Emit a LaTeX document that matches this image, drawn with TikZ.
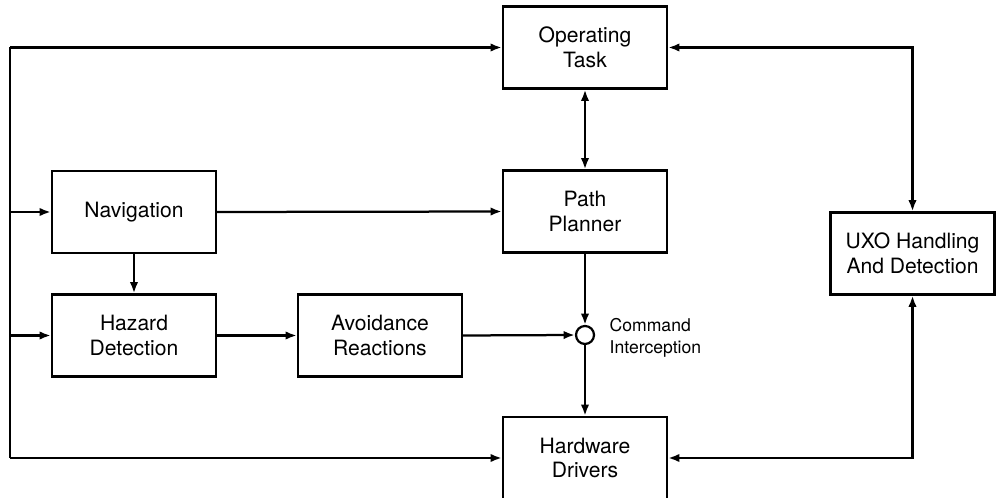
\documentclass[tikz,border=0pt]{standalone}
\usepackage{fontspec}
\setmainfont{TeX Gyre Heros}
\usetikzlibrary{positioning,arrows.meta}

\begin{document}
\begin{tikzpicture}[>={Latex[length=8pt,width=6pt]},x=0.025cm,y=-0.025cm,line width=1.6pt,
        block/.style={draw,rectangle,align=center,minimum width=4.1cm,minimum height=2.05cm,
            inner sep=2pt,font=\fontsize{15}{17.5}\selectfont},
        junct/.style={draw,circle,minimum size=0.45cm,inner sep=0pt}]

                \useasboundingbox (0,0) rectangle (996,498);

                \node[block] (task) at (585,47.5) {Operating\\Task};
                \node[block] (path) at (585,211.5) {Path\\Planner};
                \node[block] (nav) at (134,212) {Navigation};
                \node[block] (haz) at (134,335.5) {Hazard\\Detection};
                \node[block] (avoid) at (380,335.5) {Avoidance\\Reactions};
                \node[block] (hw) at (585,458) {Hardware\\Drivers};
                \node[block] (uxo) at (912.5,253.5) {UXO Handling\\And Detection};

                \node[junct] (cmd) at (585,335) {};
                \node[right=0.22cm of cmd,align=left,yshift=-0.08cm,
                    font=\fontsize{12.5}{15.5}\selectfont] (cmdtext) {Command\\Interception};

                \coordinate (bustop) at (10,47.5);
                \coordinate (busbot) at (10,458);

                \draw (bustop) -- (busbot);
                \draw[->] (bustop) -- (task.west);
                \draw[->] (bustop |- nav.west) -- (nav.west);
                \draw[->] (bustop |- haz.west) -- (haz.west);
                \draw[->] (busbot) -- (hw.west);

                \draw[->] (nav.east) -- (path.west);
                \draw[->] (nav.south) -- (haz.north);
                \draw[->] (haz.east) -- (avoid.west);
                \draw[->] (avoid.east) -- (cmd.west);

                \draw[<->] (task.south) -- (path.north);
                \draw[->] (path.south) -- (cmd.north);
                \draw[->] (cmd.south) -- (hw.north);

                \draw[<->] (task.east) -| (uxo.north);
                \draw[<->] (hw.east) -| (uxo.south);

            \end{tikzpicture}
\end{document}
